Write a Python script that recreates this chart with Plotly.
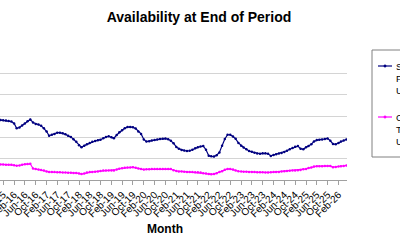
import pandas as pd
import plotly.graph_objects as go

months = pd.date_range("2015-09-01", periods=129, freq="MS")

serviceable = [
    28.1, 28.0, 27.9, 27.7, 27.4, 26.5, 24.2, 24.6, 25.6, 26.5,
    27.5, 28.4, 26.9, 26.3, 26.0, 25.4, 24.2, 22.7, 20.7, 21.2,
    21.6, 22.2, 22.2, 21.9, 21.4, 20.7, 20.2, 19.1, 17.9, 16.3,
    15.3, 16.1, 16.7, 17.4, 17.9, 18.3, 18.6, 18.9, 19.6, 20.2,
    20.5, 20.0, 19.6, 21.1, 22.4, 23.3, 24.2, 24.8, 24.9, 24.7,
    24.1, 22.7, 21.6, 19.0, 18.0, 18.2, 18.5, 18.7, 19.0, 19.2,
    19.3, 19.4, 19.1, 18.4, 17.2, 15.5, 14.7, 14.1, 13.8, 13.6,
    13.7, 14.2, 14.9, 15.3, 15.7, 15.9, 14.2, 11.4, 11.1, 11.0,
    11.6, 12.9, 16.1, 19.2, 21.2, 21.2, 20.4, 19.3, 17.4, 16.0,
    15.2, 14.4, 13.6, 13.2, 12.8, 12.4, 12.3, 12.5, 12.5, 12.3,
    11.3, 11.7, 12.1, 12.4, 12.7, 13.1, 13.7, 14.4, 15.0, 15.6,
    15.9, 14.7, 14.4, 15.4, 15.9, 16.7, 18.1, 18.7, 18.9, 19.0,
    19.2, 19.5, 18.4, 16.9, 16.7, 17.4, 18.0, 18.5, 19.0,
]

contracted = [
    7.3, 7.3, 7.2, 7.2, 7.1, 6.9, 6.7, 6.8, 7.2, 7.4,
    7.5, 7.6, 5.4, 5.1, 4.9, 4.7, 4.5, 4.0, 3.8, 3.7,
    3.7, 3.6, 3.6, 3.5, 3.5, 3.4, 3.4, 3.3, 3.3, 3.1,
    2.8, 3.1, 3.5, 3.7, 3.8, 3.9, 4.0, 4.2, 4.4, 4.5,
    4.5, 4.5, 4.5, 4.9, 5.3, 5.5, 5.7, 5.9, 5.9, 6.0,
    5.7, 5.4, 5.2, 4.9, 5.0, 5.0, 5.1, 5.1, 5.2, 5.2,
    5.2, 5.2, 5.2, 5.1, 4.6, 4.2, 4.0, 4.0, 3.9, 3.8,
    3.8, 3.7, 3.6, 3.6, 3.5, 3.2, 3.0, 2.8, 2.7, 2.8,
    3.2, 3.8, 4.1, 4.8, 5.2, 5.1, 4.9, 4.5, 4.1, 4.0,
    3.9, 3.9, 3.8, 3.7, 3.7, 3.6, 3.6, 3.6, 3.5, 3.5,
    3.6, 3.7, 3.8, 3.8, 4.0, 4.1, 4.2, 4.3, 4.4, 4.5,
    4.6, 4.7, 5.0, 5.2, 5.6, 5.9, 6.3, 6.5, 6.5, 6.5,
    6.6, 6.6, 6.6, 6.0, 6.1, 6.3, 6.5, 6.6, 6.8,
]

tick_dates = pd.date_range("2015-06-01", "2026-02-01", freq="4MS")
tick_labels = [d.strftime("%b-%y") for d in tick_dates]

series_names = ["Serviceable Fleet Units", "Contracted Total Units"]
series_colors = ["#000080", "#FF00FF"]

FONT = "Liberation Sans, Arial, sans-serif"

fig = go.Figure()
for name, vals, col in zip(series_names, [serviceable, contracted], series_colors):
    fig.add_trace(go.Scatter(
        x=months, y=vals, name=name, mode="lines+markers",
        line=dict(color=col, width=1.2),
        marker=dict(color=col, size=2.5, symbol="circle"),
        showlegend=False,
    ))

# Manual legend (box partly beyond right edge as in the reference)
PW, PH, PB = 347.0, 128.0, 180.0   # plot width, plot height, plot bottom (px)
def px(x):
    return x / PW
def py(y):
    return (PB - y) / PH

shapes = [dict(type="rect", xref="paper", yref="paper",
               x0=px(372), x1=px(420), y0=py(157), y1=py(50),
               line=dict(color="#808080", width=1), fillcolor="white", layer="above")]
annotations = []
legend_rows = [66, 117]
for name, col, row in zip(series_names, series_colors, legend_rows):
    shapes.append(dict(type="line", xref="paper", yref="paper",
                       x0=px(378), x1=px(392), y0=py(row), y1=py(row),
                       line=dict(color=col, width=1.2), layer="above"))
    shapes.append(dict(type="circle", xref="paper", yref="paper",
                       x0=px(383.8), x1=px(386.2), y0=py(row + 1.2), y1=py(row - 1.2),
                       line=dict(color=col, width=0.5), fillcolor=col, layer="above"))
    for k, word in enumerate(name.split(" ")):
        annotations.append(dict(text=word, x=px(394), y=py(row + 12 * k),
                                xref="paper", yref="paper", xanchor="left", yanchor="middle",
                                showarrow=False,
                                font=dict(size=9.5, family=FONT, color="#000000")))

annotations.append(dict(text="<b>Month</b>", x=0.4755, xref="paper",
                        y=-0.383, yref="paper", xanchor="center", yanchor="middle",
                        showarrow=False, font=dict(size=12, family=FONT, color="#000000")))

fig.update_layout(
    width=400, height=250,
    margin=dict(l=0, r=53, t=52, b=70, autoexpand=False),
    paper_bgcolor="white", plot_bgcolor="white",
    font=dict(family=FONT, color="#000000"),
    title=dict(text="<b>Availability at End of Period</b>",
               x=0.4975, xref="container", xanchor="center",
               y=0.93, yref="container", yanchor="middle",
               font=dict(size=14, family=FONT, color="#000000")),
    showlegend=False,
    xaxis=dict(
        type="date",
        range=["2015-08-26", "2026-05-08"],
        tickvals=tick_dates, ticktext=tick_labels,
        tickangle=-45, tickfont=dict(size=10, family=FONT, color="#000000"),
        ticklabeloverflow="allow",
        ticks="outside", ticklen=4, tickcolor="#a0a0a0",
        showline=True, linecolor="#a0a0a0", linewidth=1,
        showgrid=False, zeroline=False,
    ),
    yaxis=dict(
        range=[0, 60], dtick=10, showticklabels=False,
        showgrid=True, gridcolor="#d4d4d4", gridwidth=1,
        zeroline=False, showline=False,
    ),
    shapes=shapes,
    annotations=annotations,
)

fig.write_html("out.html")
